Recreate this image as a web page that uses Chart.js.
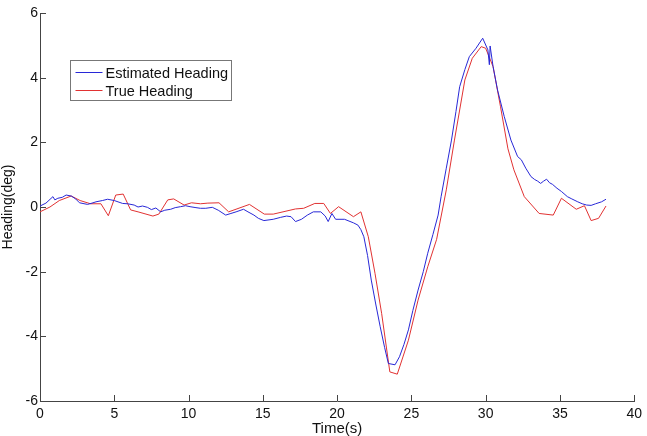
<!DOCTYPE html>
<html>
<head>
<meta charset="utf-8">
<script src="https://cdn.jsdelivr.net/npm/chart.js@4/dist/chart.umd.min.js"></script>
<style>
  html, body { margin: 0; padding: 0; background: #fff; }
  #wrap { width: 647px; height: 436px; }
</style>
</head>
<body>
<div id="wrap"><canvas id="chart" width="647" height="436"></canvas></div>
<script>
  // Estimated heading (blue) - time in s, heading in deg
  const estTime = [0, 0.4, 0.87, 1.0, 1.2, 1.5, 1.76, 2.1, 2.4, 2.66, 3.2, 3.5, 3.77, 4.2, 4.55, 5.0, 5.56, 5.9, 6.34, 6.6, 6.9, 7.23, 7.5, 7.8, 8.12, 8.4, 8.8, 9.1, 9.46, 9.8, 10.1, 10.5, 10.8, 11.16, 11.6, 12.0, 12.5, 12.85, 13.2, 13.7, 14.0, 14.4, 14.7, 15.07, 15.7, 16.2, 16.6, 16.9, 17.2, 17.6, 18.0, 18.4, 18.9, 19.2, 19.4, 19.65, 19.9, 20.5, 21.1, 21.4, 21.6, 21.8, 22.05, 22.3, 22.6, 22.9, 23.2, 23.45, 23.9, 24.2, 24.5, 24.8, 25.1, 25.45, 25.8, 26.1, 26.45, 26.8, 27.0, 27.35, 27.7, 28.0, 28.25, 28.6, 28.9, 29.35, 29.8, 30.15, 30.25, 30.3, 30.5, 30.8, 31.25, 31.7, 32.15, 32.4, 32.7, 33.05, 33.3, 33.5, 33.7, 33.9, 34.1, 34.3, 34.5, 34.8, 35.1, 35.5, 35.8, 36.2, 36.5, 36.8, 37.1, 37.4, 37.8, 38.1];
  const estHeading = [0.03, 0.12, 0.32, 0.22, 0.27, 0.3, 0.37, 0.34, 0.25, 0.13, 0.08, 0.12, 0.16, 0.2, 0.24, 0.2, 0.11, 0.1, 0.06, 0.0, 0.03, -0.01, -0.08, -0.03, -0.15, -0.1, -0.07, -0.02, 0.01, 0.04, 0.01, -0.02, -0.04, -0.04, -0.01, -0.1, -0.25, -0.2, -0.15, -0.07, -0.15, -0.25, -0.35, -0.42, -0.38, -0.32, -0.28, -0.3, -0.45, -0.38, -0.25, -0.15, -0.15, -0.28, -0.45, -0.2, -0.38, -0.38, -0.49, -0.56, -0.7, -0.92, -1.5, -2.26, -3.0, -3.7, -4.35, -4.84, -4.88, -4.63, -4.25, -3.8, -3.2, -2.57, -2.0, -1.43, -0.85, -0.25, 0.32, 1.2, 2.07, 2.95, 3.72, 4.25, 4.65, 4.91, 5.22, 4.86, 4.4, 4.98, 4.34, 3.62, 2.8, 2.07, 1.56, 1.46, 1.2, 0.94, 0.85, 0.8, 0.73, 0.8, 0.86, 0.75, 0.7, 0.58, 0.48, 0.32, 0.25, 0.16, 0.1, 0.06, 0.05, 0.1, 0.16, 0.24];

  // True heading (red)
  const trueTime = [0, 0.67, 1.3, 2.1, 2.7, 3.4, 4.1, 4.6, 5.1, 5.6, 6.1, 6.6, 7.6, 8.0, 8.6, 9.0, 9.7, 10.2, 10.8, 11.3, 12.05, 12.7, 14.1, 15.1, 15.7, 17.2, 17.75, 18.5, 19.1, 19.55, 20.1, 21.1, 21.6, 22.1, 22.55, 23.0, 23.55, 24.05, 24.8, 25.45, 26.1, 26.7, 27.35, 27.9, 28.6, 29.1, 29.7, 30.0, 30.5, 31.0, 31.5, 31.9, 32.6, 33.6, 34.55, 35.1, 36.1, 36.65, 37.1, 37.6, 38.1];
  const trueHeading = [-0.15, 0.0, 0.2, 0.34, 0.2, 0.1, 0.1, -0.27, 0.37, 0.4, -0.09, -0.15, -0.28, -0.22, 0.22, 0.25, 0.06, 0.13, 0.1, 0.12, 0.13, -0.15, 0.08, -0.22, -0.22, -0.06, -0.04, 0.11, 0.11, -0.2, 0.01, -0.3, -0.15, -0.92, -2.05, -3.3, -5.1, -5.17, -4.12, -2.88, -1.85, -1.0, 0.53, 2.07, 3.93, 4.6, 4.96, 4.91, 4.34, 3.1, 1.8, 1.15, 0.32, -0.2, -0.25, 0.27, -0.07, 0.04, -0.42, -0.35, 0.03];

  const xTicks = [0, 5, 10, 15, 20, 25, 30, 35, 40];
  const yTicks = [-6, -4, -2, 0, 2, 4, 6];

  const FONT = "'Liberation Sans', Arial, sans-serif";

  function toPoints(xs, ys) {
    return xs.map((x, i) => ({ x: x, y: ys[i] }));
  }

  // matlab style ticks pointing into the plot
  const inwardTicks = {
    id: "inwardTicks",
    afterDraw(chart) {
      const ctx = chart.ctx;
      const area = chart.chartArea;
      const xs = chart.scales.x;
      const ys = chart.scales.y;
      ctx.save();
      ctx.strokeStyle = "#444";
      ctx.lineWidth = 1;
      ctx.beginPath();
      xTicks.forEach((v) => {
        const px = Math.round(xs.getPixelForValue(v)) + 0.5;
        ctx.moveTo(px, area.bottom);
        ctx.lineTo(px, area.bottom - 6);
      });
      yTicks.forEach((v) => {
        const py = Math.round(ys.getPixelForValue(v)) + 0.5;
        ctx.moveTo(area.left, py);
        ctx.lineTo(area.left + 6, py);
      });
      ctx.stroke();
      ctx.restore();
    },
  };

  const boxLegend = {
    id: "boxLegend",
    afterDraw(chart) {
      const ctx = chart.ctx;
      const sets = chart.data.datasets;
      const left = 70.5, top = 60.5, w = 161, h = 40;
      ctx.save();
      ctx.fillStyle = "#fff";
      ctx.fillRect(left, top, w, h);
      ctx.strokeStyle = "#777";
      ctx.lineWidth = 1;
      ctx.strokeRect(left, top, w, h);
      ctx.font = "14.5px " + FONT;
      ctx.textBaseline = "middle";
      sets.forEach((ds, i) => {
        const y = Math.round(top + 11 + i * 18) + 0.5;
        ctx.strokeStyle = ds.borderColor;
        ctx.beginPath();
        ctx.moveTo(left + 5, y);
        ctx.lineTo(left + 32, y);
        ctx.stroke();
        ctx.fillStyle = "#111";
        ctx.fillText(ds.label, left + 35, y + 1);
      });
      ctx.restore();
    },
  };

  new Chart(document.getElementById("chart"), {
    type: "line",
    data: {
      datasets: [
        {
          label: "Estimated Heading",
          data: toPoints(estTime, estHeading),
          borderColor: "rgb(40,40,215)",
          borderWidth: 1,
          pointRadius: 0,
          tension: 0,
          fill: false,
        },
        {
          label: "True Heading",
          data: toPoints(trueTime, trueHeading),
          borderColor: "rgb(225,50,50)",
          borderWidth: 1,
          pointRadius: 0,
          tension: 0,
          fill: false,
        },
      ],
    },
    options: {
      responsive: false,
      animation: false,
      layout: { padding: { top: 13, right: 10, left: 0, bottom: 0 } },
      plugins: { legend: { display: false }, tooltip: { enabled: false } },
      scales: {
        x: {
          type: "linear",
          min: 0,
          max: 40,
          afterBuildTicks: (s) => { s.ticks = xTicks.map((v) => ({ value: v })); },
          afterFit: (s) => { s.height = 35; },
          grid: { display: false, drawTicks: false },
          border: { color: "#444", width: 1 },
          ticks: { color: "#111", font: { family: FONT, size: 14 }, padding: 5, maxRotation: 0 },
          title: { display: true, text: "Time(s)", color: "#111", font: { family: FONT, size: 15 }, padding: { top: 0, bottom: -2 } },
        },
        y: {
          min: -6,
          max: 6,
          afterBuildTicks: (s) => { s.ticks = yTicks.map((v) => ({ value: v })); },
          afterFit: (s) => { s.width = 40; },
          grid: { display: false, drawTicks: false },
          border: { color: "#444", width: 1 },
          ticks: { color: "#111", font: { family: FONT, size: 14 }, padding: 2 },
          title: { display: true, text: "Heading(deg)", color: "#111", font: { family: FONT, size: 14 }, padding: 0 },
        },
      },
    },
    plugins: [inwardTicks, boxLegend],
  });
</script>
</body>
</html>
